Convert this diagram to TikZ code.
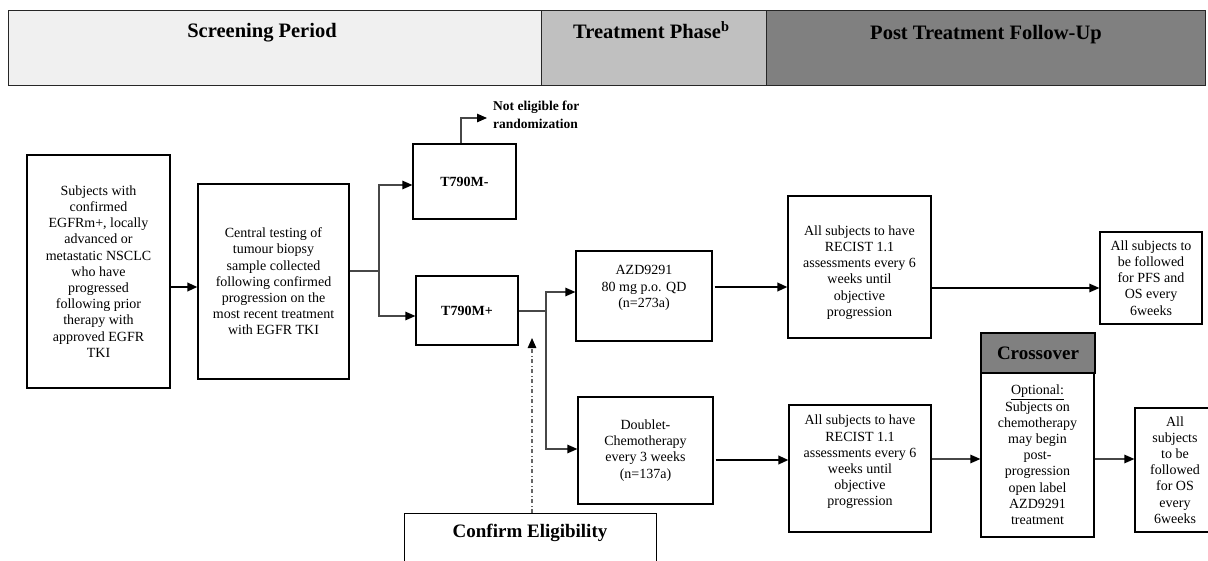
\documentclass[tikz,border=0pt]{standalone}
\usepackage{fontspec}
\setmainfont{Liberation Serif}
\usetikzlibrary{arrows.meta}

\begin{document}
\begin{tikzpicture}[x=1pt,y=-1pt,
  box/.style={draw=black,line width=1.2pt,fill=white,inner sep=0pt},
  cell/.style={draw=black!85,line width=1.2pt,inner sep=0pt,anchor=north west,minimum height=75pt},
  body/.style={font=\fontsize{14}{16.2}\selectfont,align=center,inner sep=0pt},
  bold14/.style={font=\fontsize{14}{16}\selectfont\bfseries,align=center,inner sep=0pt},
  head/.style={font=\fontsize{20.5}{24}\selectfont\bfseries,inner sep=0pt},
  big/.style={font=\fontsize{19}{22}\selectfont\bfseries,inner sep=0pt},
  conn/.style={line width=1.2pt,draw=black!72},
  main/.style={line width=2pt,draw=black},
  tip/.style={-{Triangle[length=10pt,width=8.5pt,color=black]}},
  dashdot/.style={line width=1.2pt,draw=black!60,dash pattern=on 4pt off 2.5pt on 1pt off 2.5pt},
]
\useasboundingbox (0,0) rectangle (1208,560);
\clip (0,0) rectangle (1208,560);

% phase header
\node[cell,fill={rgb,255:red,240;green,240;blue,240},minimum width=533pt] (scr) at (8,10) {};
\node[cell,fill={rgb,255:red,192;green,192;blue,192},minimum width=225pt] (trt) at (541,10) {};
\node[cell,fill={rgb,255:red,128;green,128;blue,128},minimum width=439pt] (post) at (766,10) {};
\node[head] (scr-t) at (262,33) {Screening Period};
\node[head,anchor=west] (trt-t) at (573,30) {Treatment Phase\textsuperscript{b}};
\node[head] (post-t) at (986,35) {Post Treatment Follow-Up};

% screening boxes
\node[box,body,minimum width=143pt,minimum height=233pt] (subj) at (98.5,271.5)
  {Subjects with\\confirmed\\EGFRm+, locally\\advanced or\\metastatic NSCLC\\who have\\progressed\\following prior\\therapy with\\approved EGFR\\TKI};
\node[box,body,minimum width=151pt,minimum height=195pt] (central) at (273.5,281.5)
  {Central testing of\\tumour biopsy\\sample collected\\following confirmed\\progression on the\\most recent treatment\\with EGFR TKI};

% mutation status
\node[box,bold14,minimum width=103pt,minimum height=75pt] (tneg) at (464.5,181.5) {T790M-};
\node[box,bold14,minimum width=102pt,minimum height=69pt] (tpos) at (467,310.5) {T790M+};
\node[font=\fontsize{13.5}{17.5}\selectfont\bfseries,align=left,anchor=west,inner xsep=6pt,inner ysep=0pt] (ne) at (487,115)
  {Not eligible for\\randomization};

% treatment arms
\node[box,minimum width=136pt,minimum height=90pt] (azd) at (644,296) {};
\node[body] (azd-t) at (644,288) {AZD9291\\80 mg p.o. QD\\(n=273a)};
\node[box,body,minimum width=135pt,minimum height=107pt] (dbl) at (645.5,450.5)
  {Doublet-\\Chemotherapy\\every 3 weeks\\(n=137a)};

% assessments
\node[box,minimum width=143pt,minimum height=142pt] (rec1) at (859.5,267) {};
\node[body] (rec1-t) at (859.5,272.5) {All subjects to have\\RECIST 1.1\\assessments every 6\\weeks until\\objective\\progression};
\node[box,minimum width=142pt,minimum height=127pt] (rec2) at (860,468.5) {};
\node[body] (rec2-t) at (860,462) {All subjects to have\\RECIST 1.1\\assessments every 6\\weeks until\\objective\\progression};

% follow-up
\node[box,body,minimum width=102pt,minimum height=92pt] (pfs) at (1151,278)
  {All subjects to\\be followed\\for PFS and\\OS every\\6weeks};
\node[box,fill={rgb,255:red,128;green,128;blue,128},big,minimum width=114pt,minimum height=40pt] (xhead) at (1038,353) {Crossover};
\node[box,body,minimum width=113pt,minimum height=164pt] (xbody) at (1037.5,455)
  {\underline{Optional:}\\Subjects on\\chemotherapy\\may begin\\post-\\progression\\open label\\AZD9291\\treatment};
\node[box,body,minimum width=80pt,minimum height=124pt] (os) at (1175,470)
  {All\\subjects\\to be\\followed\\for OS\\every\\6weeks};

% eligibility
\node[box,anchor=north west,minimum width=252pt,minimum height=70pt] (conf) at (404,513) {};
\node[big] (conf-t) at (530,533) {Confirm Eligibility};

% connectors
\draw[main,tip] (subj.east |- 0,287) -- (central.west |- 0,287);
\coordinate (split1) at (379,271);
\draw[conn] (central.east |- split1) -- (split1);
\draw[conn,tip] (split1) |- (tneg.west |- 0,185);
\draw[conn,tip] (split1) |- (tpos.west |- 0,316);
\draw[conn,tip] (tneg.north -| 461,0) |- (ne.west |- 0,118);

\coordinate (split2) at (546,311);
\draw[conn] (tpos.east |- split2) -- (split2);
\draw[conn,tip] (split2) |- (azd.west |- 0,292);
\draw[conn,tip] (split2) |- (dbl.west |- 0,449);

\coordinate (elig-end) at (532,338);
\draw[dashdot,tip] (conf.north -| elig-end) -- (elig-end);

\draw[main,tip] ([xshift=2pt]azd.east |- 0,287) -- (rec1.west |- 0,287);
\draw[line width=1.2pt,tip] (rec1.east |- 0,288) -- (pfs.west |- 0,288);
\draw[main,tip] ([xshift=2pt]dbl.east |- 0,460) -- (rec2.west |- 0,460);
\draw[conn,tip] (rec2.east |- 0,459) -- (xbody.west |- 0,459);
\draw[conn,tip] (xbody.east |- 0,459) -- (os.west |- 0,459);
\end{tikzpicture}
\end{document}
